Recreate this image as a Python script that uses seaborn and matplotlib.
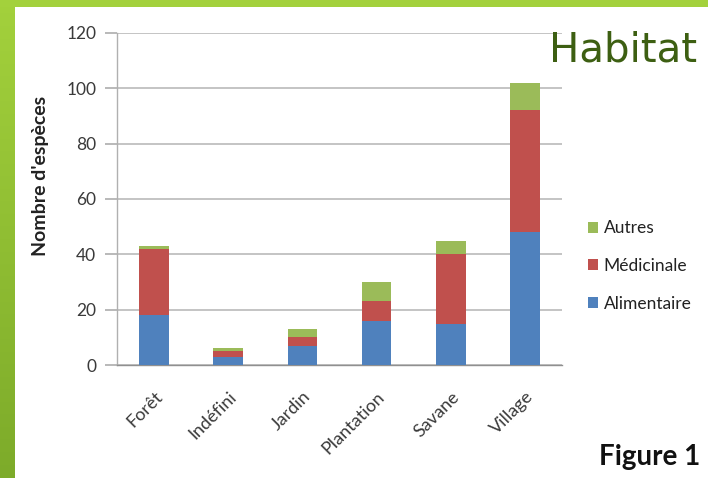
import numpy as np
import pandas as pd
import matplotlib
matplotlib.use("Agg")
import matplotlib.pyplot as plt
from matplotlib.patches import Rectangle
import seaborn as sns

# Species counts per habitat, split by use
habitats = ["Forêt", "Indéfini", "Jardin", "Plantation", "Savane", "Village"]
alimentaire = [18, 3, 7, 16, 15, 48]
medicinale = [24, 2, 3, 7, 25, 44]
autres = [1, 1, 3, 7, 5, 10]

series_names = ["Autres", "Médicinale", "Alimentaire"]
colors = {"Alimentaire": "#4F81BD", "Médicinale": "#C0504D", "Autres": "#9BBB59"}

sns.set_theme(style="white")
plt.rcParams["font.family"] = ["Lato", "DejaVu Sans"]

W, H = 708, 478
fig = plt.figure(figsize=(W / 100, H / 100), dpi=100)
fig.patch.set_facecolor("white")

# green frame on the left and top edges
grad = np.linspace(0, 1, 256).reshape(-1, 1)
frame_cmap = matplotlib.colors.LinearSegmentedColormap.from_list("frame", ["#a3d13c", "#7dab2a"])
left_ax = fig.add_axes([0, 0, 14 / W, 1])
left_ax.imshow(grad, aspect="auto", cmap=frame_cmap)
left_ax.axis("off")
fig.patches.append(Rectangle((0, 1 - 7 / H), 1, 7 / H, transform=fig.transFigure,
                             facecolor="#a3d13c", edgecolor="none", zorder=5))

ax = fig.add_axes([117 / W, 1 - 365 / H, (562 - 117) / W, (365 - 33) / H])

df = pd.DataFrame({
    "Habitat": habitats,
    "Alimentaire": alimentaire,
    "Médicinale": medicinale,
    "Autres": autres,
})
df["cum_med"] = df["Alimentaire"] + df["Médicinale"]
df["cum_all"] = df["cum_med"] + df["Autres"]

# stacked bars: draw cumulative totals from tallest to shortest
for col, name in [("cum_all", "Autres"), ("cum_med", "Médicinale"), ("Alimentaire", "Alimentaire")]:
    sns.barplot(data=df, x="Habitat", y=col, color=colors[name], width=0.4,
                saturation=1, ax=ax, zorder=3, edgecolor="none")

ax.set_ylim(0, 120)
ax.set_xlim(-0.5, len(habitats) - 0.5)
ax.set_yticks(range(0, 121, 20))
ax.yaxis.grid(True, color="#b4b4b4", linewidth=1.1, zorder=0)
ax.set_axisbelow(True)
for s in ["top", "right"]:
    ax.spines[s].set_visible(False)
ax.spines["left"].set_color("#b0b0b0")
ax.spines["bottom"].set_color("#909090")
ax.spines["left"].set_linewidth(1.0)
ax.spines["bottom"].set_linewidth(1.0)

# tick marks on category boundaries
ax.set_xticks(np.arange(-0.5, len(habitats), 1.0), minor=True)
ax.set_xticks(range(len(habitats)))
ax.set_xticklabels(habitats, rotation=45, ha="right", rotation_mode="anchor",
                   fontsize=13, color="#3a3a3a")
ax.tick_params(axis="x", which="major", length=0, pad=17)
ax.tick_params(axis="x", which="minor", length=6, color="#909090", direction="out")
ax.tick_params(axis="y", length=9, color="#b0b0b0", direction="out", labelsize=12.5,
               labelcolor="#3a3a3a", left=True, pad=6)
ax.set_xlabel("")
ax.set_ylabel("Nombre d'espèces", fontsize=14, fontweight="bold", color="#222222")
ax.yaxis.set_label_coords((49 - 117) / 445, (365 - 176) / 332)

# legend on the right
handles = [Rectangle((0, 0), 1, 1, facecolor=colors[n], edgecolor="none") for n in series_names]
fig.legend(handles, series_names, loc="center left", bbox_to_anchor=(588 / W, 1 - 266 / H),
           frameon=False, fontsize=12.5, handlelength=0.6, handleheight=0.6,
           handletextpad=0.3, labelspacing=1.25, borderpad=0, borderaxespad=0,
           labelcolor="#222222")

fig.text(697 / W, 1 - 61 / H, "Habitat", ha="right", va="baseline", fontsize=29,
         color="#3d5f12", family=["DejaVu Sans"])
fig.text(700 / W, 1 - 465 / H, "Figure 1", ha="right", va="baseline", fontsize=20,
         fontweight="bold", color="#111111")

fig.savefig("out.png", dpi=100)
